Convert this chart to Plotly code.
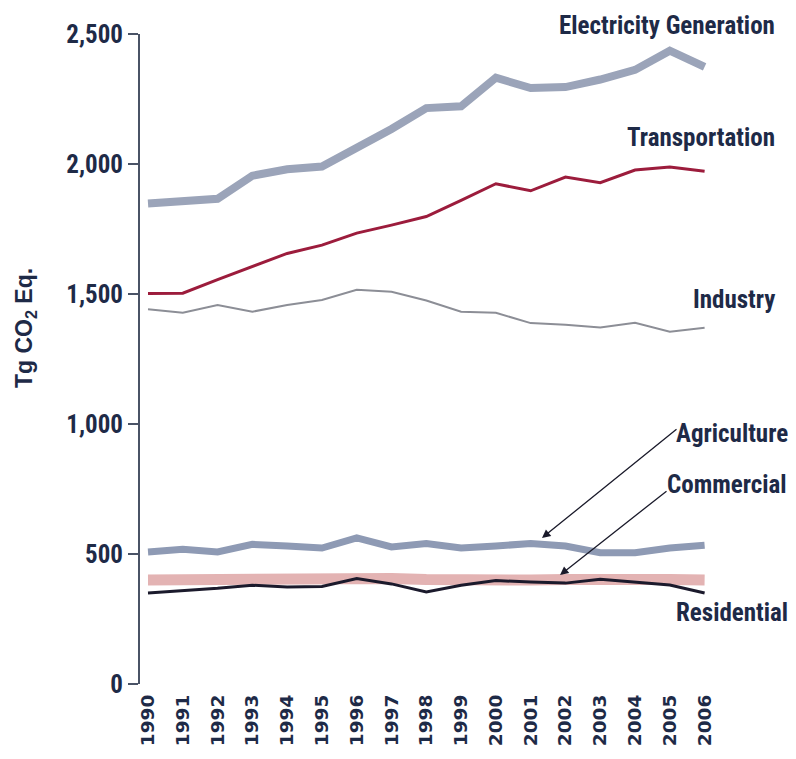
import plotly.graph_objects as go

years = list(range(1990, 2007))
electricity = [1848, 1856, 1866, 1955, 1980, 1990, 2060, 2135, 2215, 2222, 2332, 2292, 2296, 2325, 2362, 2436, 2374]
transportation = [1502, 1503, 1555, 1604, 1656, 1688, 1734, 1765, 1798, 1860, 1924, 1897, 1950, 1928, 1977, 1988, 1972]
industry = [1441, 1428, 1458, 1432, 1458, 1477, 1516, 1509, 1475, 1432, 1428, 1388, 1382, 1371, 1389, 1355, 1370]
agriculture = [508, 518, 508, 537, 531, 523, 562, 527, 540, 523, 531, 540, 531, 505, 505, 523, 534]
commercial = [400, 402, 402, 404, 405, 404, 410, 406, 402, 398, 398, 400, 402, 405, 404, 402, 400]
residential = [350, 358, 368, 380, 373, 375, 406, 385, 354, 380, 398, 392, 388, 403, 393, 381, 350]

yticks = [0, 500, 1000, 1500, 2000, 2500]
ytick_text = ["0", "500", "1,000", "1,500", "2,000", "2,500"]

NARROW = "Roboto Condensed, Liberation Sans Narrow, Arial Narrow, sans-serif"
WIDE = "DejaVu Sans, Liberation Sans, sans-serif"
TITLEF = "Liberation Sans, Arial, sans-serif"
NAVY = "#1e2a47"

fig = go.Figure()
series = [
    (commercial, "#e3b3b3", 11),
    (agriculture, "#8e9ab4", 7),
    (residential, "#1b1a2c", 3),
    (industry, "#8c8e96", 2),
    (transportation, "#9c1c3c", 3),
    (electricity, "#9ba4b9", 8),
]
names = ["Commercial", "Agriculture", "Residential", "Industry", "Transportation", "Electricity Generation"]
for (vals, col, w), nm in zip(series, names):
    fig.add_trace(go.Scatter(x=years, y=vals, mode="lines", name=nm,
                             line=dict(color=col, width=w), showlegend=False))

# page body has an 8px margin; figure coords = screen coords - 8
OFF = 8
W, H = 786, 743
L, T = 140 - OFF, 34 - OFF
plot_bottom = 684 - OFF
plot_right = 722 - OFF
R = W - plot_right
B = H - plot_bottom
pw = W - L - R
ph = H - T - B

def px(x):
    return (x - OFF - L) / pw

def py(y):
    return (H - B - (y - OFF)) / ph

labels = [
    ("Electricity Generation", 777, 25),
    ("Transportation", 777, 137),
    ("Industry", 777, 300),
    ("Agriculture", 790, 433),
    ("Commercial", 789, 484),
    ("Residential", 790, 612),
]
for txt, xr, yc in labels:
    fig.add_annotation(text="<b>%s</b>" % txt, xref="paper", yref="paper",
                       x=px(xr), y=py(yc), xanchor="right", yanchor="middle",
                       showarrow=False, font=dict(family=NARROW, size=25, color=NAVY))

# y-axis title
fig.add_annotation(text="<b>Tg CO<sub>2</sub> Eq.</b>", xref="paper", yref="paper",
                   x=px(25), y=py(328), xanchor="center", yanchor="middle",
                   textangle=-90, showarrow=False,
                   font=dict(family=TITLEF, size=23, color=NAVY))

# arrows (head, tail) in screen pixels
arrows = [((542, 538), (678, 428)), ((560, 575), (668, 490))]
for (hx, hy), (tx, ty) in arrows:
    fig.add_annotation(xref="paper", yref="paper", x=px(hx), y=py(hy),
                       ax=tx - hx, ay=ty - hy, showarrow=True, arrowhead=2,
                       arrowsize=1.3, arrowwidth=1.3, arrowcolor="#1a1a2a", text="")

fig.update_layout(
    width=W, height=H,
    margin=dict(l=L, r=R, t=T, b=B, autoexpand=False),
    plot_bgcolor="white", paper_bgcolor="white",
    font=dict(family=NARROW, color=NAVY),
    xaxis=dict(range=[1989.77, 2006.5], tickmode="array", tickvals=years,
               ticktext=["<b>%d</b>" % y for y in years], tickangle=-90,
               showgrid=False, zeroline=False, showline=False, ticks="",
               tickfont=dict(family=WIDE, size=18.5, color=NAVY), ticklabelstandoff=6),
    yaxis=dict(range=[0, 2500], tickmode="array", tickvals=yticks,
               ticktext=["<b>%s</b>" % t for t in ytick_text],
               showgrid=False, zeroline=False, showline=True, linecolor="#4a5366",
               linewidth=2, ticks="outside", ticklen=10, tickwidth=2, tickcolor="#4a5366",
               tickfont=dict(family=NARROW, size=25, color=NAVY)),
)

fig.write_html("out.html")
